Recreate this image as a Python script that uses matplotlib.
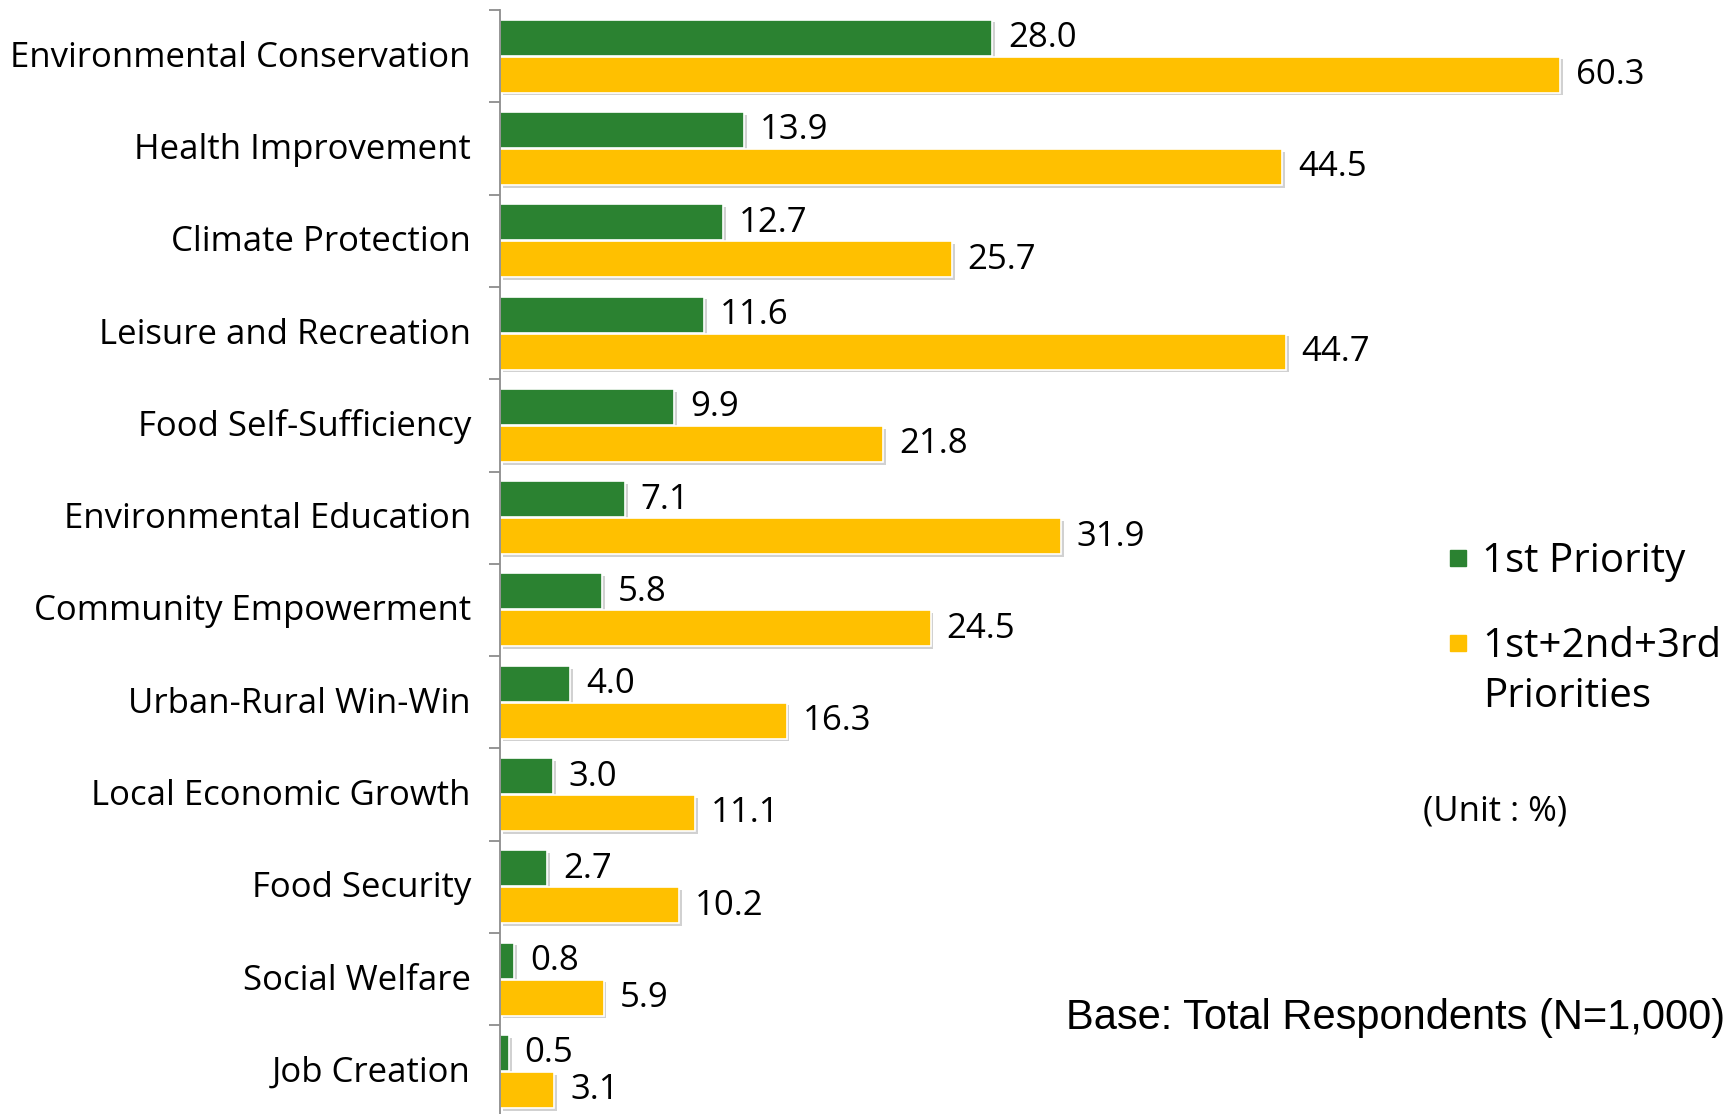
import matplotlib.pyplot as plt
import matplotlib.patheffects as pe
import matplotlib.transforms as mtransforms
from matplotlib.lines import Line2D
import numpy as np

plt.rcParams['font.family'] = ['Open Sans', 'DejaVu Sans']

categories = ["Environmental Conservation", "Health Improvement", "Climate Protection",
              "Leisure and Recreation", "Food Self-Sufficiency", "Environmental Education",
              "Community Empowerment", "Urban-Rural Win-Win", "Local Economic Growth",
              "Food Security", "Social Welfare", "Job Creation"]
first_priority = [28.0, 13.9, 12.7, 11.6, 9.9, 7.1, 5.8, 4.0, 3.0, 2.7, 0.8, 0.5]
top_three = [60.3, 44.5, 25.7, 44.7, 21.8, 31.9, 24.5, 16.3, 11.1, 10.2, 5.9, 3.1]
series_labels = ["1st Priority", "1st+2nd+3rd"]

GREEN = "#2B8231"
YELLOW = "#FFC000"

W, H = 1729, 1114
fig = plt.figure(figsize=(W / 100, H / 100), dpi=100)
ax = fig.add_axes([500 / W, 1 - 1117.6 / H, 1 - 500 / W, 1107.6 / H])

y = np.arange(len(categories))
bar_h = 0.39
shadow = [pe.SimplePatchShadow(offset=(2, -2), shadow_rgbFace="#999999", alpha=0.45), pe.Normal()]

green_bars = ax.barh(y - 0.2, first_priority, height=bar_h, color=GREEN,
                     edgecolor="white", linewidth=1.2)
yellow_bars = ax.barh(y + 0.2, top_three, height=bar_h, color=YELLOW,
                      edgecolor="white", linewidth=1.2)
for b in list(green_bars) + list(yellow_bars):
    b.set_path_effects(shadow)

# value labels just past the bar ends
for bars, vals in [(green_bars, first_priority), (yellow_bars, top_three)]:
    for b, v in zip(bars, vals):
        ax.text(v + 0.9, b.get_y() + b.get_height() / 2 + 0.005, f"{v:.1f}",
                va="center", ha="left", fontsize=25, color="black")

ax.set_xlim(0, (W - 500) / 17.58)
ax.set_ylim(len(categories) - 0.5, -0.5)

ax.set_yticks(y)
ax.set_yticklabels(categories, fontsize=25)
ax.set_yticks(np.arange(len(categories) + 1) - 0.5, minor=True)
ax.tick_params(axis="y", which="major", length=0, pad=21)
ax.tick_params(axis="y", which="minor", length=8, color="#8c8c8c", width=1.3)
# nudge the category names up a touch
lift = mtransforms.ScaledTranslation(0, 2.5 / 100, fig.dpi_scale_trans)
for lbl in ax.get_yticklabels():
    lbl.set_transform(lbl.get_transform() + lift)
ax.set_xticks([])
for s in ["top", "right", "bottom"]:
    ax.spines[s].set_visible(False)
ax.spines["left"].set_color("#8c8c8c")
ax.spines["left"].set_linewidth(1.3)

handles = [Line2D([], [], marker="s", linestyle="none", markersize=12, color=GREEN),
           Line2D([], [], marker="s", linestyle="none", markersize=12, color=YELLOW)]
leg = fig.legend(handles, series_labels, loc="upper left",
                 bbox_to_anchor=(1446 / W, 1 - 542 / H), frameon=False,
                 fontsize=29, handlelength=0.6, handletextpad=0.3, labelspacing=1.09,
                 borderaxespad=0, borderpad=0)
fig.text(1483 / W, 1 - 697 / H, "Priorities", fontsize=29, va="center", ha="left")

fig.text(1423 / W, 1 - 812 / H, "(Unit : %)", fontsize=25, va="center", ha="left")
fig.text(1066 / W, 1 - 1018 / H, "Base: Total Respondents (N=1,000)", fontsize=30,
         family="Liberation Sans", va="center", ha="left")

fig.savefig("out.png", dpi=100)
